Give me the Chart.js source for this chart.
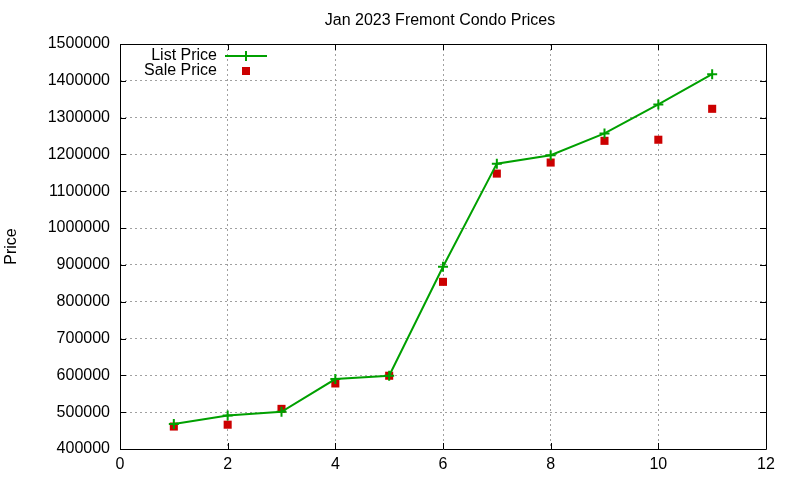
<!DOCTYPE html>
<html>
<head>
<meta charset="utf-8">
<style>
  html, body { margin: 0; padding: 0; background: #fff; }
  #wrap { width: 800px; height: 480px; }
</style>
<script src="https://cdn.jsdelivr.net/npm/chart.js"></script>
</head>
<body>
<div id="wrap"><canvas id="chart" width="800" height="480"></canvas></div>
<script>
// data
const months = [1, 2, 3, 4, 5, 6, 7, 8, 9, 10, 11];
const listPrice = [468000, 491000, 501000, 590000, 599000, 895000, 1175000, 1198000, 1257000, 1336000, 1418000];
const salePrice = [461000, 466000, 509000, 578000, 599000, 854000, 1148000, 1178000, 1237000, 1240000, 1324000];
const titleText = "Jan 2023 Fremont Condo Prices";
const yLabel = "Price";
const seriesNames = ["List Price", "Sale Price"];

const FONT = "'Liberation Sans', Arial, sans-serif";
const green = "#00a000";
const red = "#cc0000";

// frame, inward ticks, titles and gnuplot-like legend
const gnuplotBits = {
  id: "gnuplotBits",
  afterDraw(chart) {
    const ctx = chart.ctx;
    const a = chart.chartArea;
    const xs = chart.scales.x, ys = chart.scales.y;
    ctx.save();
    ctx.strokeStyle = "#000";
    ctx.lineWidth = 1;
    ctx.beginPath();
    ctx.rect(Math.round(a.left) + 0.5, Math.round(a.top) + 0.5,
      Math.round(a.right - a.left), Math.round(a.bottom - a.top));
    ctx.stroke();

    ctx.beginPath();
    xs.ticks.forEach(t => {
      const px = Math.round(xs.getPixelForValue(t.value)) + 0.5;
      ctx.moveTo(px, a.bottom); ctx.lineTo(px, a.bottom - 6);
      ctx.moveTo(px, a.top); ctx.lineTo(px, a.top + 6);
    });
    ys.ticks.forEach(t => {
      const py = Math.round(ys.getPixelForValue(t.value)) + 0.5;
      ctx.moveTo(a.left, py); ctx.lineTo(a.left + 6, py);
      ctx.moveTo(a.right, py); ctx.lineTo(a.right - 6, py);
    });
    ctx.stroke();

    ctx.fillStyle = "#000";
    ctx.font = "16px " + FONT;
    ctx.textAlign = "center";
    ctx.textBaseline = "middle";
    ctx.fillText(titleText, 440, 21);

    ctx.save();
    ctx.translate(12, (a.top + a.bottom) / 2);
    ctx.rotate(-Math.PI / 2);
    ctx.fillText(yLabel, 0, 0);
    ctx.restore();

    // legend
    ctx.textAlign = "right";
    ctx.fillText(seriesNames[0], 217, 56);
    ctx.fillText(seriesNames[1], 217, 71);
    ctx.strokeStyle = green;
    ctx.lineWidth = 2;
    ctx.beginPath();
    ctx.moveTo(225, 56); ctx.lineTo(267, 56);
    ctx.moveTo(246, 51); ctx.lineTo(246, 61);
    ctx.stroke();
    ctx.fillStyle = red;
    ctx.fillRect(242, 67, 8, 8);
    ctx.restore();
  }
};

new Chart(document.getElementById("chart"), {
  type: "line",
  data: {
    datasets: [
      {
        label: seriesNames[0],
        data: months.map((m, i) => ({ x: m, y: listPrice[i] })),
        borderColor: green,
        backgroundColor: green,
        borderWidth: 2,
        pointStyle: "cross",
        pointRadius: 5,
        pointBorderWidth: 2,
        pointBorderColor: green,
        tension: 0
      },
      {
        label: seriesNames[1],
        data: months.map((m, i) => ({ x: m, y: salePrice[i] })),
        showLine: false,
        pointStyle: "rect",
        pointRadius: 5.7,
        pointBorderWidth: 0,
        backgroundColor: red,
        borderColor: red
      }
    ]
  },
  options: {
    responsive: false,
    animation: false,
    layout: { padding: { left: 0, right: 34, top: 44, bottom: 0 } },
    plugins: {
      legend: { display: false },
      title: { display: false },
      tooltip: { enabled: false }
    },
    scales: {
      x: {
        type: "linear",
        min: 0,
        max: 12,
        ticks: { stepSize: 2, color: "#000", padding: 6, font: { family: FONT, size: 16 } },
        grid: { color: "#a0a0a0", drawTicks: false },
        border: { display: false, dash: [2, 3] },
        afterFit(s) { s.height = 31; }
      },
      y: {
        min: 400000,
        max: 1500000,
        ticks: {
          stepSize: 100000,
          color: "#000",
          padding: 10,
          font: { family: FONT, size: 16 },
          callback: v => String(v)
        },
        grid: { color: "#a0a0a0", drawTicks: false },
        border: { display: false, dash: [2, 3] },
        afterFit(s) { s.width = 120; }
      }
    }
  },
  plugins: [gnuplotBits]
});
</script>
</body>
</html>
